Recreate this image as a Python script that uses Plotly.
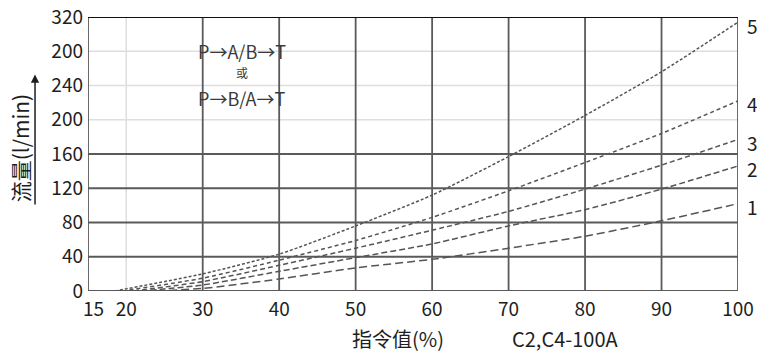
import plotly.graph_objects as go

# Command value (%) vs. flow (l/min) for five pressure-drop curves
curve_names = ["1", "2", "3", "4", "5"]
x_1 = [24, 30, 40, 50, 60, 70, 80, 90, 100]
y_1 = [0, 3, 14, 27, 37, 50, 64, 82, 102]
x_2 = [22, 30, 40, 50, 60, 70, 80, 90, 100]
y_2 = [0, 7, 23, 39, 55, 76, 95, 119, 146]
x_3 = [21, 30, 40, 50, 60, 70, 80, 90, 100]
y_3 = [0, 11, 30, 50, 71, 93, 119, 147, 177]
x_4 = [19.5, 30, 40, 50, 60, 70, 80, 90, 100]
y_4 = [0, 15, 36, 59, 86, 117, 150, 184, 222]
x_5 = [18.5, 30, 40, 50, 60, 70, 80, 90, 100]
y_5 = [0, 20, 43, 76, 112, 157, 205, 256, 314]

x_min = 15
x_ticks = [20, 30, 40, 50, 60, 70, 80, 90, 100]
x_tick_text = ["20", "30", "40", "50", "60", "70", "80", "90", "100"]
y_ticks = [0, 40, 80, 120, 160, 200, 240, 280, 320]
y_tick_text = ["0", "40", "80", "120", "160", "200", "240", "200", "320"]

dark_y = [0, 40, 80, 120, 160]
light_y = [200, 240, 280]
dark_x = [15, 30, 40, 50, 60, 70, 80, 90, 100]
light_x = [20]

FONT = "Noto Sans CJK SC, Noto Sans, sans-serif"
INK = "#1e1e1e"
GRID = "#5a5a5a"
FAINT = "#dedede"
CURVE = "#555555"

series = [
    (x_1, y_1, "8px,4px"),
    (x_2, y_2, "6px,3px"),
    (x_3, y_3, "5px,3px"),
    (x_4, y_4, "4px,3px"),
    (x_5, y_5, "3px,2px"),
]

fig = go.Figure()

for name, (xs, ys, dash) in zip(curve_names, series):
    fig.add_trace(go.Scatter(
        x=xs, y=ys, mode="lines", name=name,
        line=dict(color=CURVE, width=1.5, dash=dash, shape="spline", smoothing=0.6),
        showlegend=False, hoverinfo="skip", cliponaxis=False,
    ))

shapes = []
for v in light_y:
    shapes.append(dict(type="line", xref="x", yref="y", x0=15, x1=100, y0=v, y1=v,
                       line=dict(color=FAINT, width=1.5), layer="below"))
for v in light_x:
    shapes.append(dict(type="line", xref="x", yref="y", x0=v, x1=v, y0=0, y1=320,
                       line=dict(color=FAINT, width=1.5), layer="below"))
for v in dark_y:
    shapes.append(dict(type="line", xref="x", yref="y", x0=15, x1=100, y0=v, y1=v,
                       line=dict(color=GRID, width=1.8), layer="below"))
for v in dark_x:
    shapes.append(dict(type="line", xref="x", yref="y", x0=v, x1=v, y0=0, y1=320,
                       line=dict(color=GRID, width=1.8), layer="below"))
# heavy top border
shapes.append(dict(type="line", xref="x", yref="y", x0=15, x1=101, y0=320, y1=320,
                   line=dict(color="#111111", width=2)))

annotations = []
# leftmost x label, nudged right so it clears the "0" on the y axis
annotations.append(dict(x=x_min, y=-0.062, xref="x", yref="paper", text=str(x_min),
                        showarrow=False, xanchor="center", yanchor="middle", xshift=5,
                        font=dict(family=FONT, size=19, color=INK)))

# curve number labels at the right end of each curve
for name, (xs, ys, _) in zip(curve_names, series):
    annotations.append(dict(x=xs[-1], y=ys[-1], xref="x", yref="y", text=name,
                            showarrow=False, xanchor="left", xshift=7, yshift=-3,
                            font=dict(family=FONT, size=19, color=INK)))

# flow direction note
for txt, yv, sz in [("P→A/B→T", 280, 18), ("或", 255, 12), ("P→B/A→T", 225, 18)]:
    annotations.append(dict(x=35.1, y=yv, xref="x", yref="y", text=txt, showarrow=False,
                            font=dict(family=FONT, size=sz, color="#3a3a3a")))

# y-axis title with upward arrow
annotations.append(dict(x=-0.105, y=0.52, xref="paper", yref="paper", text="流量(l/min)",
                        showarrow=False, textangle=-90, xanchor="center", yanchor="middle",
                        font=dict(family=FONT, size=21, color=INK)))
annotations.append(dict(x=-0.0815, y=0.79, xref="x domain", yref="y domain",
                        ax=-0.0815, ay=0.31, axref="x domain", ayref="y domain",
                        text="", showarrow=True, arrowhead=2, arrowsize=1.1,
                        arrowwidth=1.5, arrowcolor=INK))

# x-axis title and model designation
annotations.append(dict(x=0.477, y=-0.173, xref="paper", yref="paper", text="指令值(%)",
                        showarrow=False, xanchor="center", yanchor="middle",
                        font=dict(family=FONT, size=20, color=INK)))
annotations.append(dict(x=0.735, y=-0.173, xref="paper", yref="paper", text="C2,C4-100A",
                        showarrow=False, xanchor="center", yanchor="middle",
                        font=dict(family=FONT, size=20, color=INK)))

fig.update_layout(
    width=757, height=352,
    margin=dict(l=88, r=19, t=17, b=61, autoexpand=False),
    paper_bgcolor="white", plot_bgcolor="white",
    shapes=shapes, annotations=annotations,
    xaxis=dict(range=[15, 100], tickvals=x_ticks, ticktext=x_tick_text,
               showgrid=False, zeroline=False, showline=False, ticks="",
               ticklabelstandoff=5, automargin=False,
               tickfont=dict(family=FONT, size=19, color=INK)),
    yaxis=dict(range=[0, 320], tickvals=y_ticks, ticktext=y_tick_text,
               showgrid=False, zeroline=False, showline=False, ticks="",
               ticklabelstandoff=4, automargin=False,
               tickfont=dict(family=FONT, size=19, color=INK)),
)

fig.write_html("out.html")
